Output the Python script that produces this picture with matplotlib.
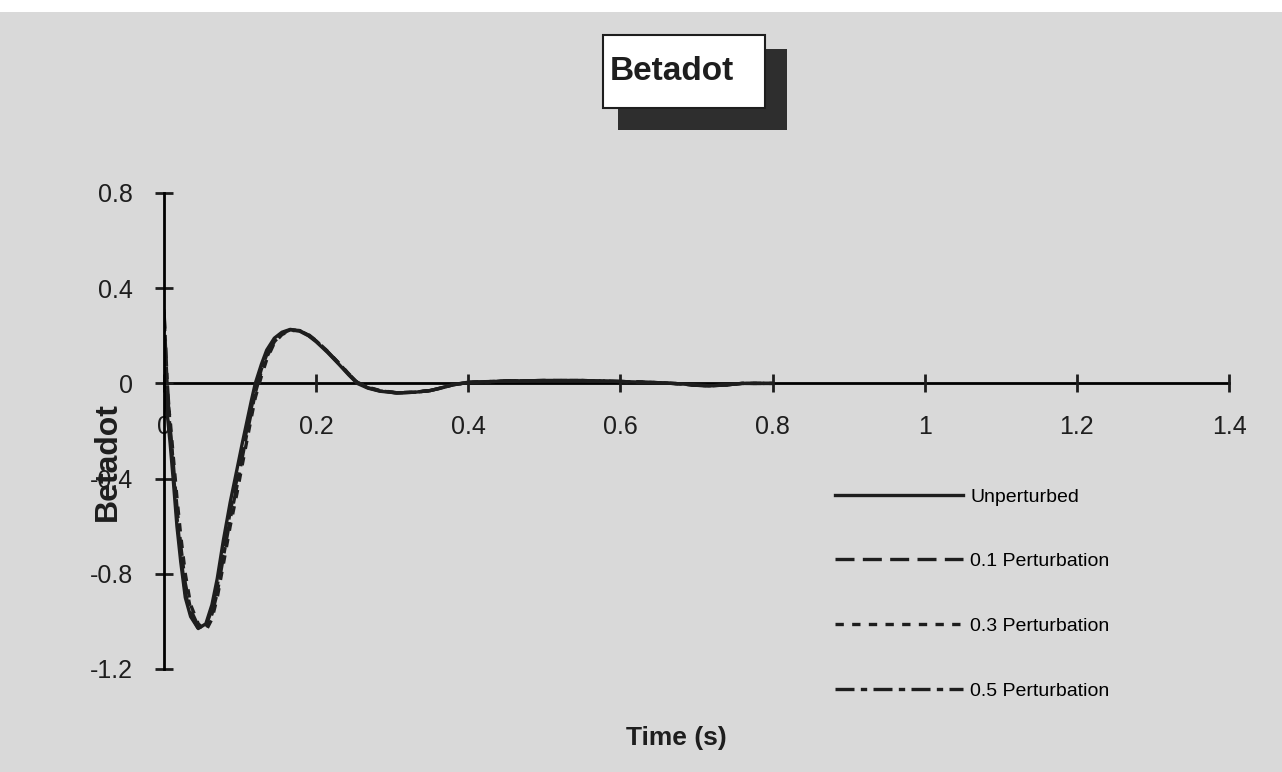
import matplotlib
matplotlib.use('Agg')
from matplotlib import pyplot as plt
from matplotlib.patches import Rectangle

plt.rcParams['font.family'] = ['Liberation Sans', 'DejaVu Sans']
plt.rcParams['axes.unicode_minus'] = False

# time (s)
vreme = [0, 0.004, 0.008, 0.012, 0.017, 0.022, 0.028, 0.035, 0.045, 0.055,
         0.063, 0.07, 0.078, 0.087, 0.096, 0.103, 0.109, 0.115, 0.12, 0.128,
         0.135, 0.145, 0.155, 0.166, 0.178, 0.19, 0.2, 0.215, 0.23, 0.243,
         0.254, 0.268, 0.284, 0.306, 0.33, 0.35, 0.365, 0.38, 0.4, 0.45,
         0.5, 0.55, 0.6, 0.65, 0.68, 0.7, 0.72, 0.74, 0.76, 0.8]

unperturbed = [0.0, -0.12, -0.25, -0.40, -0.6, -0.75, -0.9, -0.98, -1.03, -1.01,
               -0.93, -0.82, -0.66, -0.5, -0.36, -0.25, -0.16, -0.07, 0.0, 0.08,
               0.14, 0.19, 0.215, 0.227, 0.22, 0.2, 0.175, 0.13, 0.08, 0.035,
               0.0, -0.02, -0.033, -0.04, -0.037, -0.03, -0.018, -0.005, 0.005, 0.01,
               0.012, 0.012, 0.008, 0.003, -0.002, -0.008, -0.01, -0.006, 0.0, 0.0]
pert_01 = [0.30, 0.0, -0.2, -0.36, -0.56, -0.72, -0.88, -0.97, -1.03, -1.02,
           -0.95, -0.85, -0.70, -0.54, -0.40, -0.29, -0.19, -0.10, -0.03, 0.06,
           0.12, 0.18, 0.21, 0.225, 0.222, 0.202, 0.178, 0.133, 0.083, 0.038,
           0.003, -0.018, -0.032, -0.04, -0.037, -0.03, -0.019, -0.006, 0.004, 0.01,
           0.012, 0.012, 0.008, 0.003, -0.002, -0.008, -0.01, -0.006, 0.0, 0.0]
pert_03 = [0.25, -0.05, -0.15, -0.3, -0.48, -0.64, -0.8, -0.93, -1.01, -1.04,
           -0.99, -0.9, -0.76, -0.6, -0.46, -0.34, -0.24, -0.14, -0.06, 0.03,
           0.1, 0.17, 0.205, 0.222, 0.222, 0.205, 0.18, 0.135, 0.085, 0.04,
           0.005, -0.016, -0.03, -0.039, -0.037, -0.03, -0.019, -0.006, 0.004, 0.01,
           0.012, 0.012, 0.008, 0.003, -0.002, -0.008, -0.01, -0.006, 0.0, 0.0]
pert_05 = [0.31, 0.02, -0.18, -0.33, -0.52, -0.68, -0.84, -0.95, -1.02, -1.03,
           -0.97, -0.88, -0.73, -0.57, -0.43, -0.31, -0.21, -0.12, -0.04, 0.05,
           0.11, 0.175, 0.21, 0.224, 0.222, 0.203, 0.178, 0.134, 0.084, 0.039,
           0.004, -0.017, -0.031, -0.04, -0.037, -0.03, -0.019, -0.006, 0.004, 0.01,
           0.012, 0.012, 0.008, 0.003, -0.002, -0.008, -0.01, -0.006, 0.0, 0.0]

x_ticks = [0, 0.2, 0.4, 0.6, 0.8, 1.0, 1.2, 1.4]
x_labels = ['0', '0.2', '0.4', '0.6', '0.8', '1', '1.2', '1.4']
y_ticks = [-1.2, -0.8, -0.4, 0, 0.4, 0.8]
y_labels = ['-1.2', '-0.8', '-0.4', '0', '0.4', '0.8']

pozadina = '#d9d9d9'
boja = '#1e1e1e'

fig = plt.figure(figsize=(12.82, 7.72), dpi=100, facecolor=pozadina)
# white strip at the top of the scan
fig.patches.append(Rectangle((0, 1 - 12 / 772), 1, 12 / 772, transform=fig.transFigure,
                             facecolor='white', edgecolor='none', zorder=0))

ax = fig.add_axes([164 / 1282, 1 - 669 / 772, 1065 / 1282, 476 / 772])
ax.set_facecolor('none')

lw = 2.4
ax.plot(vreme, unperturbed, color=boja, lw=lw, linestyle='-', label='Unperturbed')
ax.plot(vreme, pert_01, color=boja, lw=lw, linestyle=(0, (5.7, 2.5)), label='0.1 Perturbation')
ax.plot(vreme, pert_03, color=boja, lw=lw, linestyle=(0, (2.5, 2.5)), label='0.3 Perturbation')
ax.plot(vreme, pert_05, color=boja, lw=lw, linestyle=(0, (5.7, 1.9, 1.9, 1.9)), label='0.5 Perturbation')

ax.set_xlim(0, 1.4)
ax.set_ylim(-1.2, 0.8)
for s in ['top', 'right']:
    ax.spines[s].set_visible(False)
ax.spines['bottom'].set_position(('data', 0))
ax.spines['bottom'].set_linewidth(2)
ax.spines['left'].set_linewidth(2)
ax.spines['bottom'].set_zorder(1)

ax.set_xticks(x_ticks)
ax.set_xticklabels(x_labels)
ax.set_yticks(y_ticks)
ax.set_yticklabels(y_labels)
ax.tick_params(axis='both', direction='inout', length=13, width=2, labelsize=18,
               pad=16, colors=boja)

fig.text(108 / 1282, 1 - 462 / 772, 'Betadot', rotation=90, ha='center', va='center',
         fontsize=23, fontweight='bold', color=boja)
fig.text(676 / 1282, 1 - 738 / 772, 'Time (s)', ha='center', va='center',
         fontsize=19, fontweight='bold', color=boja)

# title box with shadow
fig.patches.append(Rectangle((618 / 1282, 1 - 130 / 772), 169 / 1282, 81 / 772,
                             transform=fig.transFigure, facecolor='#2e2e2e',
                             edgecolor='none', zorder=2))
fig.patches.append(Rectangle((603 / 1282, 1 - 108 / 772), 162 / 1282, 73 / 772,
                             transform=fig.transFigure, facecolor='white',
                             edgecolor=boja, lw=1.5, zorder=3))
fig.text(672 / 1282, 1 - 71 / 772, 'Betadot', ha='center', va='center',
         fontsize=24, fontweight='bold', color=boja, zorder=4)

ax.legend(loc='upper left', bbox_to_anchor=(835 / 1282, 1 - 488 / 772),
          bbox_transform=fig.transFigure, frameon=False, fontsize=14,
          handlelength=6.6, handletextpad=0.35, labelspacing=2.42,
          borderpad=0, borderaxespad=0)

plt.savefig('out.png', dpi=100, facecolor=pozadina)
